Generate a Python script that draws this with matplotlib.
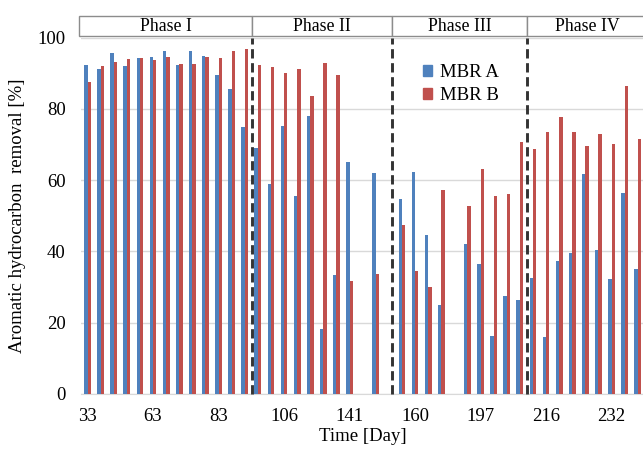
import numpy as np
import matplotlib.pyplot as plt
import matplotlib.transforms as mtransforms
from matplotlib.patches import Rectangle, Patch

plt.rcParams['font.family'] = ['Liberation Serif', 'DejaVu Serif']

# values, one entry per sampling day (nan = no sample)
mbr_a = [92.3, 91.2, 95.7, 92.0, 94.2, 94.4, 96.2, 92.3, 96.1, 94.8, 89.6, 85.6, 75.0,
         69.0, 59.0, 75.3, 55.6, 77.9, 18.3, 33.5, 65.2, np.nan, 62.0, np.nan,
         54.8, 62.3, 44.7, 24.9, np.nan, 42.1, 36.6, 16.2, 27.4, 26.3,
         32.5, 16.0, 37.2, 39.6, 61.7, 40.5, 32.2, 56.3, 35.0]
mbr_b = [87.6, 92.0, 93.1, 94.0, 94.2, 93.6, 94.4, 92.6, 92.7, 94.4, 94.3, 96.1, 96.9,
         92.3, 91.7, 90.1, 91.1, 83.6, 92.8, 89.5, 31.6, np.nan, 33.8, np.nan,
         47.5, 34.4, 30.0, 57.2, np.nan, 52.7, 63.2, 55.6, 56.0, 70.7,
         68.6, 73.4, 77.6, 73.4, 69.7, 72.9, 70.0, 86.4, 71.5]
tick_days = ["33", "63", "83", "106", "141", "160", "197", "216", "232"]
phases = ["Phase I", "Phase II", "Phase III", "Phase IV"]
phase_bounds = [-0.63, 12.56, 23.22, 33.57, 43.5]

blue = "#4F81BD"
red = "#C0504D"

fig = plt.figure(figsize=(6.43, 4.51), dpi=100)
ax = fig.add_axes([81 / 643, 57 / 451, 563.3 / 643, 356.5 / 451])

x = np.arange(len(mbr_a))
w = 0.26
ax.bar(x - w / 2, mbr_a, width=w, color=blue, label="MBR A", zorder=3)
ax.bar(x + w / 2, mbr_b, width=w, color=red, label="MBR B", zorder=3)

ax.set_xlim(-0.5, 42.5)
ax.set_ylim(0, 100)
ax.set_yticks([0, 20, 40, 60, 80, 100])
ax.set_xticks(x[::5])
ax.set_xticklabels(tick_days)
ax.tick_params(axis='both', length=0, labelsize=13.5)
ax.tick_params(axis='y', pad=11)
ax.tick_params(axis='x', pad=10)
ax.grid(axis='y', color="#d9d9d9", linewidth=1, zorder=0)
for s in ["left", "right", "top"]:
    ax.spines[s].set_visible(False)
ax.spines["bottom"].set_color("#d9d9d9")

ax.set_xlabel("Time [Day]", fontsize=13.5, labelpad=2)
ax.set_ylabel("Aromatic hydrocarbon  removal [%]", fontsize=13.5, labelpad=8)

# phase separators and header boxes
trans = mtransforms.blended_transform_factory(ax.transData, ax.transAxes)
for b in phase_bounds[1:-1]:
    ax.plot([b, b], [0, 1], transform=trans, color="#333333", linewidth=2.1,
            linestyle=(0, (3.2, 1.6)), zorder=4, clip_on=False)
for name, lo, hi in zip(phases, phase_bounds[:-1], phase_bounds[1:]):
    ax.add_patch(Rectangle((lo, 1.004), hi - lo, 0.056, transform=trans,
                           facecolor="white", edgecolor="#8c8c8c", linewidth=1,
                           clip_on=False, zorder=5))
    mid = (lo + hi) / 2 if hi < 43 else (lo + 42.8) / 2
    ax.text(mid, 1.032, name, transform=trans, ha="center", va="center",
            fontsize=12.8, zorder=6)

handles = [Patch(color=blue), Patch(color=red)]
ax.legend(handles, ["MBR A", "MBR B"], loc="upper left", bbox_to_anchor=(0.607, 0.925),
          frameon=False, fontsize=13.5, handlelength=0.5, handleheight=0.5,
          handletextpad=0.4, labelspacing=0.3, borderpad=0, borderaxespad=0)

fig.savefig("out.png", dpi=100)
